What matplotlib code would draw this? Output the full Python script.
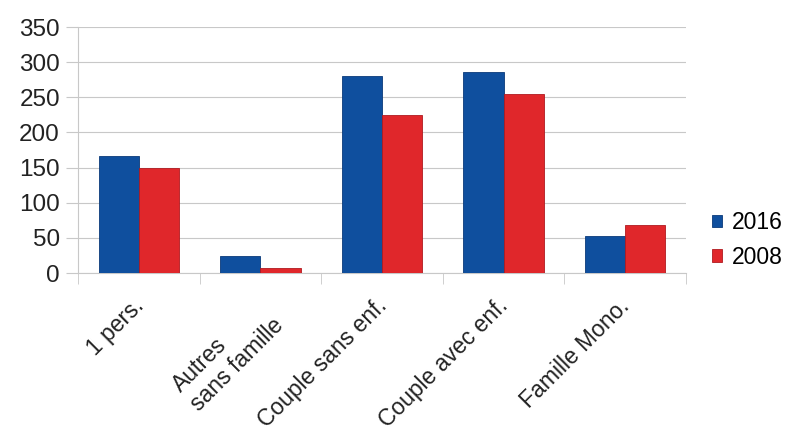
import matplotlib
matplotlib.use("Agg")
import matplotlib.pyplot as plt
import matplotlib.transforms as mtransforms
import numpy as np

plt.rcParams["font.family"] = ["Liberation Sans", "DejaVu Sans"]

categories = ["1 pers.", "Autres\nsans famille", "Couple sans enf.", "Couple avec enf.", "Famille Mono."]
values_2016 = [167, 24, 280, 286, 53]
values_2008 = [150, 7, 225, 254, 69]
series_labels = ["2016", "2008"]
yticks = [0, 50, 100, 150, 200, 250, 300, 350]

blue = "#0f4f9e"
red = "#e0272b"

fig = plt.figure(figsize=(7.88, 4.33), dpi=100)
ax = fig.add_axes([0.099, 0.3695, 0.7716, 0.5681])

x = np.arange(len(categories))
w = 0.33
ax.bar(x - w/2, values_2016, w, color=blue, edgecolor="#0a3a7a", linewidth=0.6, label=series_labels[0], zorder=3)
ax.bar(x + w/2, values_2008, w, color=red, edgecolor="#b01a20", linewidth=0.6, label=series_labels[1], zorder=3)

ax.set_xlim(-0.5, len(categories) - 0.5)
ax.set_ylim(0, 350)
ax.set_yticks(yticks)
ax.set_yticklabels([str(v) for v in yticks], fontsize=17.5, color="#222222")
ax.yaxis.grid(True, color="#c8c8c8", linewidth=0.8, zorder=0)

# category labels, slanted; boundary ticks drawn as minor ticks
ax.set_xticks(x)
ax.set_xticklabels(categories, rotation=45, ha="right", rotation_mode="anchor",
                   multialignment="left", fontsize=16.5, color="#222222")
ax.tick_params(axis="x", which="major", length=0, pad=14)
shift = mtransforms.ScaledTranslation(-5/72, -1.5/72, fig.dpi_scale_trans)
for lab in ax.get_xticklabels():
    lab.set_transform(lab.get_transform() + shift)
ax.set_xticks(np.arange(-0.5, len(categories)), minor=True)
ax.tick_params(axis="x", which="minor", length=8, color="#c8c8c8")
ax.tick_params(axis="y", length=9, color="#c8c8c8", pad=4)

for side in ["top", "right"]:
    ax.spines[side].set_visible(False)
ax.spines["left"].set_color("#c8c8c8")
ax.spines["bottom"].set_color("#c8c8c8")

fig.legend(loc="center left", bbox_to_anchor=(0.903, 0.446), frameon=False,
           fontsize=16.5, handlelength=0.45, handleheight=0.45, handletextpad=0.45,
           labelspacing=0.5, borderaxespad=0, borderpad=0)

fig.savefig("out.png", dpi=100)
